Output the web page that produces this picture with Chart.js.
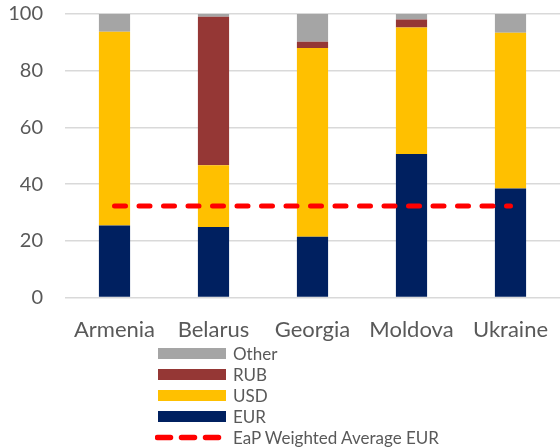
<!DOCTYPE html>
<html>
<head>
<meta charset="utf-8">
<script src="https://cdn.jsdelivr.net/npm/chart.js@4"></script>
<style>
  body { margin: 0; background: #fff; font-family: Lato, sans-serif; }
  #wrap { position: relative; width: 560px; height: 447px; overflow: hidden; }
  #chart-box { position: absolute; left: 0; top: -20px; width: 560px; height: 374px; }
  #legend { position: absolute; left: 158px; top: 343px; color: #595959; font-size: 17px; }
  #legend .row { display: flex; align-items: center; height: 21px; }
  #legend .swatch { width: 68px; height: 11px; margin-right: 7px; }
  #legend svg { margin-left: -3px; margin-right: 7px; }
</style>
</head>
<body>
<div id="wrap">
  <div id="chart-box"><canvas id="grafico"></canvas></div>
  <div id="legend"></div>
</div>
<script>
const paises = ['Armenia', 'Belarus', 'Georgia', 'Moldova', 'Ukraine'];
const eur = [25.4, 24.9, 21.5, 50.6, 38.5];
const usd = [68.3, 21.8, 66.5, 44.6, 54.9];
const rub = [0, 52.3, 2.2, 2.9, 0];
const otros = [6.3, 1.0, 9.8, 1.9, 6.6];
const promedioEur = [32.3, 32.3, 32.3, 32.3, 32.3];
const ticksY = [0, 20, 40, 60, 80, 100];

const gris = '#595959';

const ctx = document.getElementById('grafico').getContext('2d');
const grafico = new Chart(ctx, {
  data: {
    labels: paises,
    datasets: [
      { type: 'line', label: 'EaP Weighted Average EUR', data: promedioEur,
        borderColor: '#ff0000', borderWidth: 5, borderDash: [11, 13.5], borderCapStyle: 'round',
        pointRadius: 0, fill: false, order: 0 },
      { type: 'bar', label: 'EUR', data: eur, backgroundColor: '#002060', order: 1 },
      { type: 'bar', label: 'USD', data: usd, backgroundColor: '#ffc000', order: 1 },
      { type: 'bar', label: 'RUB', data: rub, backgroundColor: '#953735', order: 1 },
      { type: 'bar', label: 'Other', data: otros, backgroundColor: '#a5a5a5', order: 1 }
    ]
  },
  options: {
    responsive: true,
    maintainAspectRatio: false,
    animation: false,
    layout: { padding: { top: 3, right: 0, left: 0, bottom: 0 } },
    datasets: { bar: { barPercentage: 0.5, categoryPercentage: 0.63 } },
    plugins: { legend: { display: false }, tooltip: { enabled: false } },
    scales: {
      x: {
        stacked: true,
        grid: { display: false },
        border: { display: false },
        ticks: { color: gris, font: { family: 'Lato', size: 22 }, padding: 11 }
      },
      y: {
        stacked: true,
        min: 0, max: 100,
        afterBuildTicks: (axis) => { axis.ticks = ticksY.map(v => ({ value: v })); },
        afterFit: (axis) => { axis.width = 65; },
        grid: { color: '#d9d9d9', lineWidth: 1.5, drawTicks: false },
        border: { display: false },
        ticks: { color: gris, font: { family: 'Lato', size: 20 }, padding: 22 }
      }
    }
  }
});

// leyenda vertical debajo del grafico
const orden = ['Other', 'RUB', 'USD', 'EUR', 'EaP Weighted Average EUR'];
const legend = document.getElementById('legend');
legend.innerHTML = orden.map(nombre => {
  const ds = grafico.data.datasets.find(d => d.label === nombre);
  const muestra = ds.type === 'line'
    ? `<svg width="71" height="11"><line x1="2.5" y1="5.5" x2="71" y2="5.5" stroke="${ds.borderColor}" stroke-width="5.5" stroke-linecap="round" stroke-dasharray="13 11"/></svg>`
    : `<div class="swatch" style="background:${ds.backgroundColor}"></div>`;
  return `<div class="row">${muestra}<span>${nombre}</span></div>`;
}).join('');
</script>
</body>
</html>
